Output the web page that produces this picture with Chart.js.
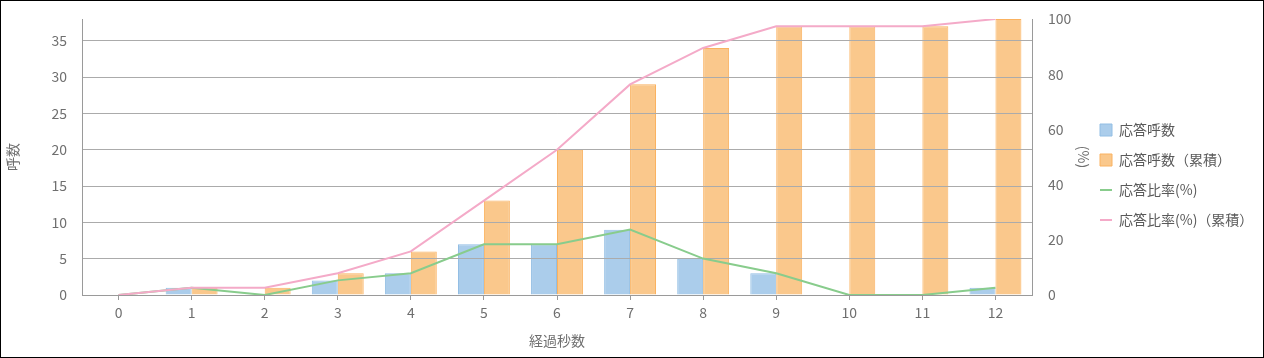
<!DOCTYPE html>
<html><head><meta charset="utf-8">
<script src="https://cdn.jsdelivr.net/npm/chart.js@4.4.1/dist/chart.umd.min.js"></script>
<style>
html,body{margin:0;padding:0;background:#fff;}
#wrap{width:1264px;height:358px;border:1px solid #000;box-sizing:border-box;background:#fff;}
canvas{display:block;}
</style></head><body>
<div id="wrap"><canvas id="c" width="1262" height="356"></canvas></div>
<script>
// ---- data ----
const categories = ['0','1','2','3','4','5','6','7','8','9','10','11','12'];
const responseCounts = [0, 1, 0, 2, 3, 7, 7, 9, 5, 3, 0, 0, 1];
const cumulativeCounts = [0, 1, 1, 3, 6, 13, 20, 29, 34, 37, 37, 37, 38];
const responseRatio = [0, 2.6, 0, 5.3, 7.9, 18.4, 18.4, 23.7, 13.2, 7.9, 0, 0, 2.6];
const cumulativeRatio = [0, 2.6, 2.6, 7.9, 15.8, 34.2, 52.6, 76.3, 89.5, 97.4, 97.4, 97.4, 100];
const seriesNames = ['応答呼数', '応答呼数（累積）', '応答比率(%)', '応答比率(%)（累積）'];
const axisTitles = { x: '経過秒数', left: '呼数', right: '(%)' };
const leftAxis = { min: 0, max: 38, step: 5 };
const rightAxis = { min: 0, max: 100, step: 20 };

const FONT = '"Noto Sans CJK JP", "Noto Sans", sans-serif';
const TICK_COLOR = '#6f6f6f';
const AXIS_COLOR = '#9a9a9a';
const GRID_COLOR = '#ababab';

const LEGEND_W = 179;
const layoutTweak = {
  id: 'layoutTweak',
  beforeLayout(chart) {
    const lg = chart.legend;
    if (lg && !lg.__wrapped) {
      const f = lg.fit;
      lg.fit = function () { f.call(this); this.width = LEGEND_W; };
      lg.__wrapped = true;
    }
  },
  afterLayout(chart) {
    if (chart.legend) chart.legend.top = 106;
  },
  // grid lines appear over the bars but under the lines in the reference
  afterDatasetDraw(chart, args) {
    if (args.index === 0) {
      const ctx = chart.ctx;
      ctx.save();
      chart.scales.y.drawGrid(chart.chartArea);
      ctx.restore();
    }
  }
};

new Chart(document.getElementById('c'), {
  type: 'bar',
  data: {
    labels: categories,
    datasets: [
      {
        type: 'bar', label: seriesNames[0], data: responseCounts, yAxisID: 'y',
        backgroundColor: 'rgba(171,205,235,1)', borderColor: 'rgba(146,190,228,1)', borderWidth: 1,
        barPercentage: 1, categoryPercentage: 0.71, order: 2, pointStyle: 'rect'
      },
      {
        type: 'bar', label: seriesNames[1], data: cumulativeCounts, yAxisID: 'y',
        backgroundColor: 'rgba(250,200,140,1)', borderColor: 'rgba(250,178,96,1)', borderWidth: 1,
        barPercentage: 1, categoryPercentage: 0.71, order: 2, pointStyle: 'rect'
      },
      {
        type: 'line', label: seriesNames[2], data: responseRatio, yAxisID: 'y1',
        borderColor: 'rgb(136,204,140)', backgroundColor: 'rgb(136,204,140)', borderWidth: 2,
        pointRadius: 0, pointHoverRadius: 0, tension: 0, order: 1, pointStyle: 'line'
      },
      {
        type: 'line', label: seriesNames[3], data: cumulativeRatio, yAxisID: 'y1',
        borderColor: 'rgb(244,170,200)', backgroundColor: 'rgb(244,170,200)', borderWidth: 2,
        pointRadius: 0, pointHoverRadius: 0, tension: 0, order: 0, pointStyle: 'line'
      }
    ]
  },
  options: {
    responsive: false,
    animation: false,
    events: [],
    layout: { padding: { top: 18, left: 0, right: 0, bottom: 0 } },
    plugins: {
      tooltip: { enabled: false },
      legend: {
        position: 'right',
        align: 'start',
        labels: {
          usePointStyle: true,
          pointStyleWidth: 12,
          boxHeight: 12,
          padding: 16,
          color: '#595959',
          font: { family: FONT, size: 14 },
          sort: (a, b) => a.datasetIndex - b.datasetIndex
        }
      }
    },
    scales: {
      x: {
        offset: true,
        grid: { offset: false, drawOnChartArea: false, drawTicks: true, tickLength: 5, color: AXIS_COLOR },
        border: { color: AXIS_COLOR },
        ticks: { color: TICK_COLOR, font: { family: FONT, size: 14 }, padding: 4, maxRotation: 0 },
        title: { display: true, text: axisTitles.x, color: TICK_COLOR, font: { family: FONT, size: 14 }, padding: { top: 0, bottom: 8 } },
        afterFit(s) { s.height = 62; }
      },
      y: {
        position: 'left',
        min: leftAxis.min, max: leftAxis.max,
        grid: {
          color: (c) => (c.tick && c.tick.value === 0 ? AXIS_COLOR : GRID_COLOR),
          drawTicks: true, tickLength: 12, tickColor: 'rgba(0,0,0,0)'
        },
        border: { color: AXIS_COLOR },
        ticks: { stepSize: leftAxis.step, includeBounds: false, color: TICK_COLOR, font: { family: FONT, size: 14 }, padding: 3 },
        title: { display: true, text: axisTitles.left, color: TICK_COLOR, font: { family: FONT, size: 14 }, padding: { top: 3, bottom: 0 } },
        afterFit(s) { s.width = 81; }
      },
      y1: {
        position: 'right',
        min: rightAxis.min, max: rightAxis.max,
        grid: { drawOnChartArea: false, drawTicks: true, tickLength: 13, tickColor: 'rgba(0,0,0,0)' },
        border: { color: AXIS_COLOR },
        ticks: { stepSize: rightAxis.step, color: TICK_COLOR, font: { family: FONT, size: 14 }, padding: 3 },
        title: { display: true, text: axisTitles.right, color: TICK_COLOR, font: { family: FONT, size: 14 }, padding: { top: -7.4, bottom: 0 } },
        afterFit(s) { s.width = 52; }
      }
    }
  },
  plugins: [layoutTweak]
});
</script>
</body></html>
